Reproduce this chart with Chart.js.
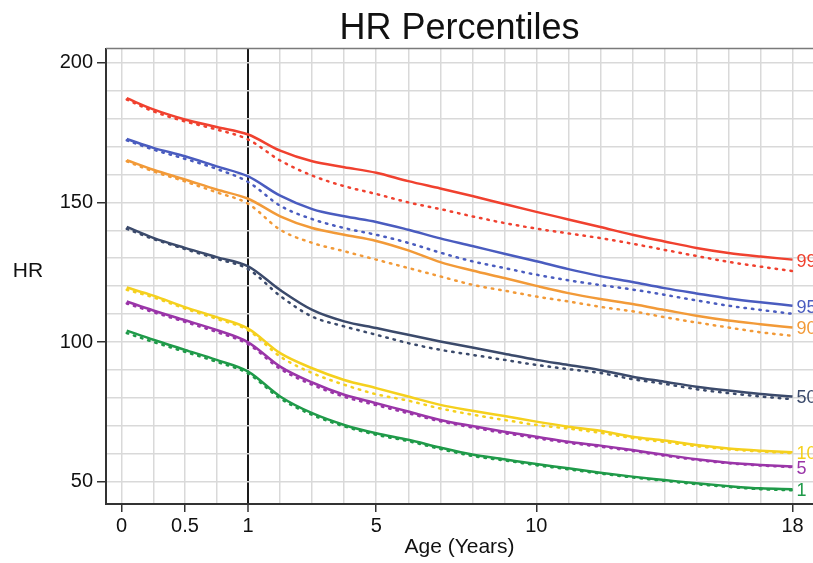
<!DOCTYPE html>
<html>
<head>
<meta charset="utf-8">
<title>HR Percentiles</title>
<script src="https://cdn.jsdelivr.net/npm/chart.js@4.4.1/dist/chart.umd.min.js"></script>
<style>
  html, body { margin: 0; padding: 0; background: #fff; }
  #wrap { width: 813px; height: 563px; }
</style>
</head>
<body>
<div id="wrap"><canvas id="hrChart"></canvas></div>
<script>
    // =========================
    // Data
    // =========================

    const ages = [0.04, 0.25, 0.5, 0.75, 1, 2, 3, 4, 5, 6, 7, 8, 9, 10, 11, 12, 13, 14, 15, 16, 17, 18];

    const p99 = [187.3, 183.3, 179.7, 177.0, 174.3, 168.5, 164.7, 162.6, 160.6, 157.6, 155.0, 152.3, 149.4, 146.6, 143.9, 141.2, 138.4, 136.0, 133.7, 131.9, 130.6, 129.5];
    const p99b = [186.8, 182.6, 179.0, 176.1, 172.5, 165.0, 159.6, 155.8, 153.0, 150.0, 147.6, 145.0, 142.6, 140.6, 138.9, 137.2, 135.2, 133.0, 130.8, 128.7, 127.0, 125.4];
    const p95 = [172.7, 169.5, 166.5, 162.9, 159.3, 152.4, 147.6, 145.0, 143.0, 140.2, 137.1, 134.4, 131.6, 128.9, 126.1, 123.6, 121.5, 119.3, 117.4, 115.6, 114.2, 113.0];
    const p95b = [172.2, 168.9, 165.6, 162.0, 157.3, 148.8, 144.0, 140.8, 138.4, 135.5, 132.0, 128.9, 126.5, 124.1, 122.1, 120.4, 118.8, 116.9, 114.9, 113.0, 111.5, 110.1];
    const p90 = [165.1, 161.7, 158.2, 154.6, 151.3, 145.0, 140.8, 138.4, 136.2, 132.8, 128.6, 125.6, 122.9, 120.1, 117.5, 115.4, 113.6, 111.5, 109.4, 107.7, 106.4, 105.2];
    const p90b = [164.7, 161.1, 157.5, 153.6, 149.5, 140.2, 135.5, 132.5, 129.5, 126.5, 123.5, 120.5, 118.4, 116.3, 114.5, 112.6, 111.0, 108.9, 107.0, 105.2, 103.5, 102.2];
    const p50 = [141.2, 137.3, 133.7, 130.4, 127.1, 118.6, 111.5, 107.4, 105.0, 102.6, 100.2, 98.0, 95.8, 93.6, 91.8, 89.9, 87.6, 85.8, 84.0, 82.6, 81.4, 80.5];
    const p50b = [140.5, 136.9, 133.3, 129.8, 126.1, 116.5, 109.1, 105.6, 102.6, 99.6, 97.2, 95.4, 93.6, 91.8, 90.3, 88.9, 86.7, 85.0, 83.1, 81.7, 80.5, 79.5];
    const p10 = [119.5, 116.6, 112.5, 108.9, 104.8, 96.0, 90.6, 86.4, 83.5, 80.5, 77.5, 75.4, 73.5, 71.5, 69.7, 68.2, 66.1, 64.7, 63.1, 61.9, 61.1, 60.5];
    const p10b = [118.7, 116.0, 112.0, 108.3, 104.2, 94.8, 88.9, 84.7, 81.3, 79.0, 76.2, 74.0, 72.1, 70.3, 69.0, 67.5, 65.6, 64.2, 62.7, 61.6, 60.8, 60.2];
    const p5 = [114.5, 111.3, 107.8, 104.3, 99.9, 91.2, 85.5, 81.1, 78.1, 75.1, 72.1, 69.9, 67.9, 66.1, 64.3, 62.9, 61.3, 59.6, 58.0, 56.8, 56.0, 55.4];
    const p5b = [113.8, 110.7, 107.2, 103.6, 99.2, 90.4, 84.7, 80.4, 77.4, 74.5, 71.6, 69.4, 67.4, 65.6, 63.9, 62.5, 61.0, 59.3, 57.8, 56.6, 55.8, 55.2];
    const p1 = [104.1, 100.8, 97.2, 93.6, 89.4, 80.5, 74.5, 70.3, 67.3, 65.0, 62.2, 59.7, 58.0, 56.3, 54.8, 53.2, 51.8, 50.6, 49.4, 48.4, 47.6, 47.3];
    const p1b = [103.2, 100.0, 96.5, 92.9, 88.7, 79.8, 73.9, 69.8, 66.8, 64.5, 61.7, 59.2, 57.6, 55.9, 54.4, 52.9, 51.5, 50.3, 49.1, 48.1, 47.3, 46.9];

    const percentileLabels = ['99', '95', '90', '50', '10', '5', '1'];

    const xGridAges = [0, 0.25, 0.5, 0.75, 1, 2, 3, 4, 5, 6, 7, 8, 9, 10, 11, 12, 13, 14, 15, 16, 17, 18];
    const xTickLabels = [0, 0.5, 1, 5, 10, 18];
    const yGridValues = [50, 60, 70, 80, 90, 100, 110, 120, 130, 140, 150, 160, 170, 180, 190, 200];
    const yTickLabels = [50, 100, 150, 200];

    // =========================
    // Echelle en age (premiere annee etiree)
    // =========================

    const FIRST_YEAR = 3.95;
    const warp = a => (a <= 1 ? a * FIRST_YEAR : FIRST_YEAR + (a - 1));
    const unwarp = u => (u <= FIRST_YEAR ? u / FIRST_YEAR : 1 + (u - FIRST_YEAR));

    class AgeScale extends Chart.LinearScale {
      getPixelForValue(value) {
        const a = warp(this.min), b = warp(this.max);
        return this.getPixelForDecimal((warp(value) - a) / (b - a));
      }
      getValueForPixel(pixel) {
        const a = warp(this.min), b = warp(this.max);
        return unwarp(a + this.getDecimalForPixel(pixel) * (b - a));
      }
    }
    AgeScale.id = 'age';
    AgeScale.defaults = Chart.LinearScale.defaults;
    Chart.register(AgeScale);

    // =========================
    // Series
    // =========================

    const colors = ['#f0412f', '#4a5cbf', '#f29a38', '#3b4a6b', '#f5d01e', '#9a35a8', '#1f9a49'];
    const solidSeries = [p99, p95, p90, p50, p10, p5, p1];
    const dottedSeries = [p99b, p95b, p90b, p50b, p10b, p5b, p1b];

    const toPoints = values => values.map((v, i) => ({ x: ages[i], y: v }));

    const datasets = [];
    solidSeries.forEach((values, i) => {
      datasets.push({
        label: percentileLabels[i],
        endLabel: percentileLabels[i],
        data: toPoints(values),
        borderColor: colors[i],
        borderWidth: 2.5,
        pointRadius: 0,
        cubicInterpolationMode: 'monotone'
      });
      datasets.push({
        label: percentileLabels[i] + ' (dotted)',
        data: toPoints(dottedSeries[i]),
        borderColor: colors[i],
        borderWidth: 2.5,
        borderDash: [1.5, 6],
        borderCapStyle: 'round',
        pointRadius: 0,
        cubicInterpolationMode: 'monotone'
      });
    });

    // =========================
    // Plugins: cadre, titre HR, etiquettes
    // =========================

    const decorPlugin = {
      id: 'decor',
      afterDatasetsDraw(chart) {
        const ctx = chart.ctx;
        const area = chart.chartArea;
        ctx.save();
        ctx.strokeStyle = '#7a7a7a';
        ctx.lineWidth = 1.5;
        ctx.beginPath();
        ctx.moveTo(area.left, area.top);
        ctx.lineTo(area.right, area.top);
        ctx.stroke();

        ctx.font = '18px "Liberation Sans", Arial, sans-serif';
        ctx.textBaseline = 'middle';
        ctx.textAlign = 'left';
        chart.data.datasets.forEach((ds, i) => {
          if (!ds.endLabel) return;
          const meta = chart.getDatasetMeta(i);
          const pt = meta.data[meta.data.length - 1];
          ctx.fillStyle = ds.borderColor;
          ctx.fillText(ds.endLabel, pt.x + 4, pt.y + 2);
        });

        ctx.fillStyle = '#111';
        ctx.font = '21px "Liberation Sans", Arial, sans-serif';
        ctx.textAlign = 'center';
        ctx.fillText('HR', 28, 271);
        ctx.restore();
      }
    };

    Chart.defaults.font.family = '"Liberation Sans", Arial, sans-serif';
    Chart.defaults.color = '#111';

    new Chart(document.getElementById('hrChart'), {
      type: 'line',
      data: { datasets: datasets },
      plugins: [decorPlugin],
      options: {
        responsive: true,
        maintainAspectRatio: false,
        animation: false,
        layout: { padding: 0 },
        plugins: {
          legend: { display: false },
          tooltip: { enabled: false },
          title: {
            display: true,
            text: 'HR Percentiles',
            fullSize: false,
            color: '#111',
            font: { size: 36, weight: 'normal', lineHeight: 1.1 },
            padding: { top: 9, bottom: 0 }
          }
        },
        scales: {
          x: {
            type: 'age',
            min: -0.124,
            max: 18.64,
            afterBuildTicks: s => { s.ticks = xGridAges.map(v => ({ value: v })); },
            afterFit: s => { s.height = 59; },
            ticks: {
              autoSkip: false,
              maxRotation: 0,
              padding: 2,
              font: { size: 20 },
              callback: v => (xTickLabels.includes(v) ? String(v) : '')
            },
            grid: {
              color: c => (c.tick && c.tick.value === 1 ? '#1a1a1a' : '#d9d9d9'),
              lineWidth: c => (c.tick && c.tick.value === 1 ? 2 : 1.5),
              tickColor: c => (c.tick && xTickLabels.includes(c.tick.value) ? '#333' : 'rgba(0,0,0,0)'),
              tickWidth: 1.5,
              tickLength: 8
            },
            border: { display: true, color: '#333', width: 2 },
            title: {
              display: true,
              text: 'Age (Years)',
              font: { size: 21 },
              padding: { top: 0, bottom: 3 }
            }
          },
          y: {
            type: 'linear',
            min: 42,
            max: 205.06,
            afterBuildTicks: s => { s.ticks = yGridValues.map(v => ({ value: v })); },
            afterFit: s => { s.width = 106; },
            ticks: {
              autoSkip: false,
              padding: 4,
              font: { size: 20 },
              callback: v => (yTickLabels.includes(v) ? String(v) : '')
            },
            grid: {
              color: '#d9d9d9',
              lineWidth: 1.5,
              tickColor: c => (c.tick && yTickLabels.includes(c.tick.value) ? '#333' : 'rgba(0,0,0,0)'),
              tickWidth: 1.5,
              tickLength: 9
            },
            border: { display: true, color: '#333', width: 2 }
          }
        }
      }
    });
</script>
</body>
</html>
